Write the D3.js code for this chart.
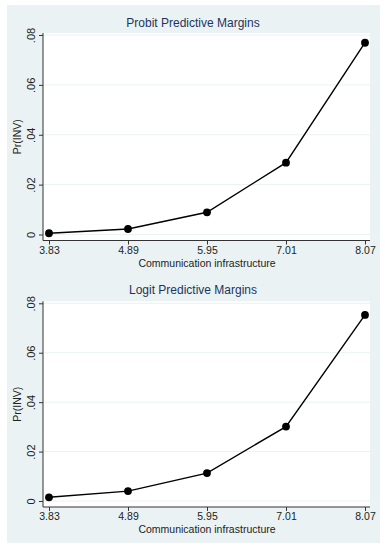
<!DOCTYPE html>
<html>
<head>
<meta charset="utf-8">
<script src="https://cdn.jsdelivr.net/npm/d3@7"></script>
<style>
  body { margin: 0; background: #fff; }
  text { font-family: "Liberation Sans", Arial, sans-serif; }
</style>
</head>
<body>
<div id="chart"></div>
<script>
// x categories (communication infrastructure levels)
const xValues = [3.83, 4.89, 5.95, 7.01, 8.07];
const yTicks = [0, 0.02, 0.04, 0.06, 0.08];
// predictive margins
const probitValues = [0.0005, 0.0022, 0.0089, 0.0288, 0.0769];
const logitValues = [0.0015, 0.004, 0.0113, 0.0301, 0.0753];
const titles = ["Probit Predictive Margins", "Logit Predictive Margins"];

const W = 385, H = 550;
const svg = d3.select("#chart").append("svg")
  .attr("width", W).attr("height", H);

svg.append("rect")
  .attr("x", 7).attr("y", 5)
  .attr("width", 373).attr("height", 538)
  .attr("fill", "#eaf2f3");

const fmt = d => d === 0 ? "0" : d3.format(".2f")(d).replace(/^0/, "");

const drawPanel = (top, zeroY, topY, title, values) => {
  const left = 43, right = 370;
  const x = d3.scaleLinear().domain([3.83, 8.07]).range([49, 365]);
  const y = d3.scaleLinear().domain([0, 0.08]).range([zeroY, topY]);
  const bottom = zeroY + 6;
  const plotTop = topY - 2;

  const g = svg.append("g");
  g.append("rect")
    .attr("x", left).attr("y", plotTop)
    .attr("width", right - left).attr("height", bottom - plotTop)
    .attr("fill", "#fff");

  g.selectAll("line.grid").data(yTicks).join("line")
    .attr("class", "grid")
    .attr("x1", left).attr("x2", right)
    .attr("y1", d => y(d)).attr("y2", d => y(d))
    .attr("stroke", "#eaf2f3").attr("stroke-width", 1);

  // y axis
  const yAx = g.append("g").attr("transform", `translate(${left},0)`)
    .call(d3.axisLeft(y).tickValues(yTicks).tickFormat(fmt).tickSize(4).tickPadding(3));
  yAx.select(".domain").attr("d", `M0,${plotTop}V${bottom}`).attr("stroke", "#333");
  yAx.selectAll(".tick line").attr("stroke", "#333");
  yAx.selectAll(".tick text")
    .attr("font-size", 11).attr("fill", "#222")
    .attr("text-anchor", "middle")
    .attr("x", 0).attr("dy", 0)
    .attr("transform", "translate(-8,0) rotate(-90)");

  // x axis
  const xAx = g.append("g").attr("transform", `translate(0,${bottom})`)
    .call(d3.axisBottom(x).tickValues(xValues).tickFormat(d3.format(".2f")).tickSize(4).tickPadding(2));
  xAx.select(".domain").attr("d", `M${left},0H${right}`).attr("stroke", "#333");
  xAx.selectAll(".tick line").attr("stroke", "#333");
  xAx.selectAll(".tick text").attr("font-size", 10.5).attr("fill", "#222");

  g.append("text")
    .attr("x", 207).attr("y", bottom + 26)
    .attr("text-anchor", "middle").attr("font-size", 10.5).attr("fill", "#222")
    .text("Communication infrastructure");

  g.append("text")
    .attr("transform", `translate(21,${(plotTop + bottom) / 2}) rotate(-90)`)
    .attr("text-anchor", "middle").attr("font-size", 10.5).attr("fill", "#222")
    .text("Pr(INV)");

  g.append("text")
    .attr("x", 193).attr("y", top)
    .attr("text-anchor", "middle").attr("font-size", 12).attr("fill", "#1e3460")
    .text(title);

  const line = d3.line().x((d, i) => x(xValues[i])).y(d => y(d));
  g.append("path").datum(values)
    .attr("d", line).attr("fill", "none")
    .attr("stroke", "#000").attr("stroke-width", 1.4);
  g.selectAll("circle").data(values).join("circle")
    .attr("cx", (d, i) => x(xValues[i])).attr("cy", d => y(d))
    .attr("r", 3.9).attr("fill", "#000");
};

drawPanel(27, 234.5, 35, titles[0], probitValues);
drawPanel(294, 501, 303.3, titles[1], logitValues);
</script>
</body>
</html>
